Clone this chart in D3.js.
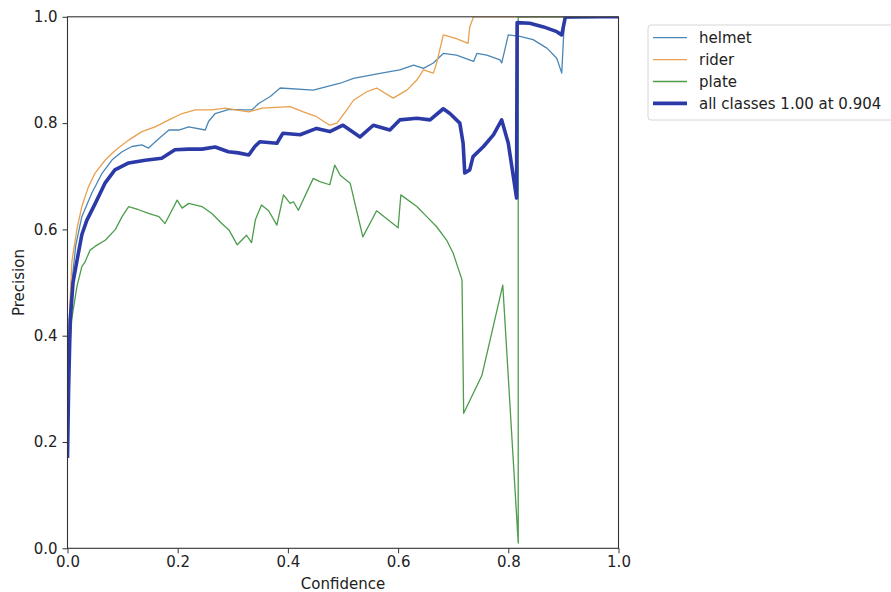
<!DOCTYPE html>
<html><head><meta charset="utf-8">
<script src="https://cdn.jsdelivr.net/npm/d3@7"></script>
<style>body{margin:0;background:#fff}text{font-family:"DejaVu Sans",sans-serif;fill:#222}</style>
</head><body><svg id="c" width="891" height="592"></svg>
<script>
const xTicks=[0,0.2,0.4,0.6,0.8,1.0];
const yTicks=[0,0.2,0.4,0.6,0.8,1.0];
const seriesNames=["helmet","rider","plate","all classes 1.00 at 0.904"];
const helmet=[[0,0.28],[0.003,0.42],[0.008,0.5],[0.015,0.57],[0.026,0.624],[0.044,0.668],[0.063,0.706],[0.081,0.731],[0.099,0.746],[0.117,0.756],[0.135,0.759],[0.147,0.753],[0.166,0.771],[0.184,0.787],[0.202,0.787],[0.22,0.793],[0.25,0.787],[0.256,0.803],[0.268,0.818],[0.293,0.826],[0.317,0.825],[0.335,0.825],[0.347,0.837],[0.368,0.85],[0.386,0.866],[0.446,0.862],[0.495,0.875],[0.519,0.884],[0.555,0.891],[0.585,0.897],[0.603,0.9],[0.628,0.909],[0.646,0.903],[0.664,0.913],[0.682,0.931],[0.706,0.928],[0.737,0.916],[0.743,0.931],[0.761,0.928],[0.785,0.919],[0.788,0.913],[0.8,0.966],[0.821,0.963],[0.845,0.957],[0.87,0.941],[0.888,0.922],[0.897,0.894],[0.902,0.997],[1.0,1.0]];
const rider=[[0,0.3],[0.004,0.45],[0.008,0.54],[0.017,0.6],[0.026,0.643],[0.038,0.68],[0.05,0.706],[0.069,0.731],[0.087,0.749],[0.111,0.768],[0.135,0.784],[0.159,0.793],[0.184,0.806],[0.208,0.818],[0.232,0.825],[0.262,0.825],[0.286,0.828],[0.305,0.825],[0.329,0.821],[0.353,0.828],[0.404,0.831],[0.428,0.821],[0.452,0.812],[0.476,0.796],[0.489,0.8],[0.507,0.825],[0.519,0.843],[0.543,0.859],[0.561,0.866],[0.591,0.847],[0.616,0.862],[0.634,0.881],[0.646,0.9],[0.664,0.894],[0.67,0.913],[0.682,0.966],[0.706,0.959],[0.727,0.95],[0.73,0.981],[0.737,1.0],[1.0,1.0]];
const plate=[[0,0.3],[0.004,0.38],[0.008,0.433],[0.017,0.492],[0.026,0.53],[0.032,0.539],[0.041,0.561],[0.05,0.568],[0.069,0.58],[0.087,0.6],[0.099,0.624],[0.111,0.643],[0.129,0.637],[0.147,0.63],[0.166,0.624],[0.177,0.611],[0.19,0.637],[0.199,0.655],[0.208,0.64],[0.22,0.649],[0.244,0.643],[0.262,0.63],[0.28,0.611],[0.293,0.599],[0.308,0.571],[0.325,0.589],[0.334,0.575],[0.341,0.618],[0.352,0.646],[0.365,0.635],[0.38,0.608],[0.392,0.665],[0.404,0.649],[0.41,0.652],[0.419,0.636],[0.446,0.696],[0.458,0.69],[0.476,0.684],[0.485,0.721],[0.495,0.702],[0.513,0.687],[0.536,0.586],[0.561,0.635],[0.6,0.603],[0.605,0.665],[0.634,0.643],[0.652,0.624],[0.67,0.605],[0.688,0.58],[0.7,0.555],[0.716,0.505],[0.719,0.254],[0.752,0.325],[0.79,0.495],[0.818,0.01],[0.818,1.0],[1.0,1.0]];
const allClasses=[[0,0.17],[0.002,0.3],[0.005,0.43],[0.01,0.5],[0.017,0.54],[0.026,0.59],[0.035,0.617],[0.05,0.648],[0.068,0.687],[0.086,0.712],[0.111,0.725],[0.141,0.73],[0.171,0.734],[0.195,0.75],[0.22,0.751],[0.244,0.751],[0.268,0.755],[0.292,0.746],[0.31,0.744],[0.329,0.74],[0.34,0.756],[0.349,0.765],[0.38,0.762],[0.391,0.781],[0.422,0.778],[0.452,0.79],[0.476,0.784],[0.5,0.796],[0.531,0.774],[0.555,0.796],[0.585,0.787],[0.603,0.806],[0.634,0.809],[0.658,0.806],[0.682,0.827],[0.694,0.818],[0.712,0.8],[0.718,0.762],[0.721,0.706],[0.73,0.712],[0.736,0.737],[0.755,0.756],[0.773,0.778],[0.788,0.806],[0.8,0.762],[0.815,0.659],[0.816,0.989],[0.839,0.988],[0.864,0.981],[0.888,0.972],[0.897,0.966],[0.903,0.997],[0.904,1.0],[1.0,1.0]];
const colors=["#4a86b6","#e9a04e","#4c9c4c","#2b3aa6"];
const widths=[1.3,1.3,1.3,3.6];

const svg=d3.select("#c");
const L=67.5,R=618.5,T=16.8,B=548.3;
const x=d3.scaleLinear().domain([0,1]).range([L,R]);
const y=d3.scaleLinear().domain([0,1]).range([B,T]);
svg.append("clipPath").attr("id","clip").append("rect").attr("x",L).attr("y",T).attr("width",R-L).attr("height",B-T);
const line=d3.line().x(d=>x(d[0])).y(d=>y(d[1]));
const g=svg.append("g").attr("clip-path","url(#clip)");
[helmet,rider,plate,allClasses].forEach((s,i)=>{
  g.append("path").datum(s).attr("d",line).attr("fill","none").attr("stroke",colors[i]).attr("stroke-width",widths[i]).attr("stroke-linejoin","round");
});
const xa=svg.append("g").attr("transform",`translate(0,${B})`).call(d3.axisBottom(x).tickValues(xTicks).tickFormat(d3.format(".1f")).tickSize(5).tickPadding(3));
const ya=svg.append("g").attr("transform",`translate(${L},0)`).call(d3.axisLeft(y).tickValues(yTicks).tickFormat(d3.format(".1f")).tickSize(5).tickPadding(5));
[xa,ya].forEach(a=>{a.selectAll("text").attr("font-size",15).attr("font-family","DejaVu Sans").style("fill","#222");a.selectAll("line").attr("stroke","#333");a.select(".domain").remove();});
svg.append("rect").attr("x",L).attr("y",T).attr("width",R-L).attr("height",B-T).attr("fill","none").attr("stroke","#333").attr("stroke-width",1.1);
svg.append("text").attr("x",(L+R)/2).attr("y",589).attr("text-anchor","middle").attr("font-size",15).text("Confidence");
svg.append("text").attr("transform",`translate(24,${(T+B)/2}) rotate(-90)`).attr("text-anchor","middle").attr("font-size",15).text("Precision");
const lg=svg.append("g");
lg.append("rect").attr("x",648).attr("y",25).attr("width",260).attr("height",95).attr("rx",3).attr("fill","#fff").attr("stroke","#d6d6d6");
seriesNames.forEach((n,i)=>{
  const yy=37.7+i*21.9;
  lg.append("line").attr("x1",653).attr("x2",687).attr("y1",yy).attr("y2",yy).attr("stroke",colors[i]).attr("stroke-width",widths[i]);
  lg.append("text").attr("x",699).attr("y",yy).attr("dy","0.35em").attr("font-size",15).text(n);
});
</script></body></html>
